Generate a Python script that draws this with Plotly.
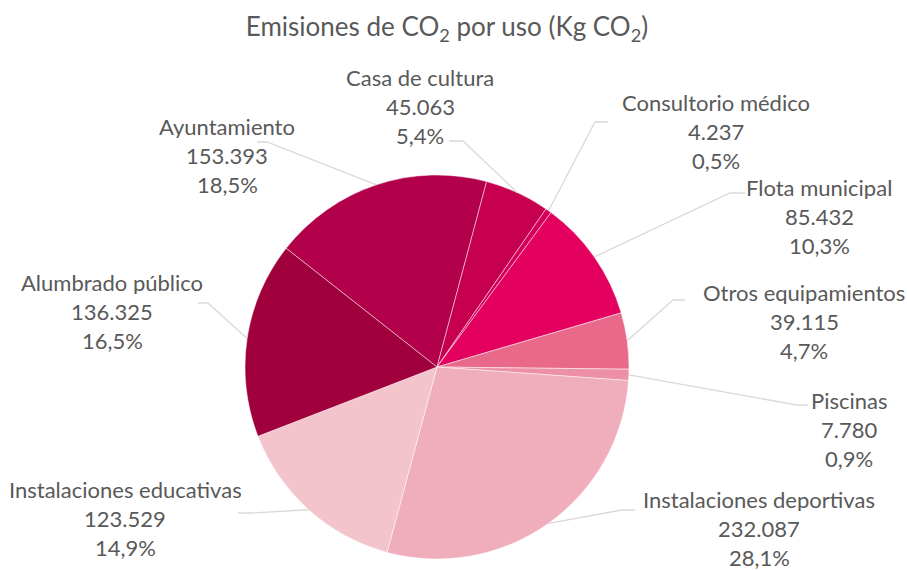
import math
import plotly.graph_objects as go

# ---- data ----
categories = ["Ayuntamiento", "Casa de cultura", "Consultorio médico", "Flota municipal",
              "Otros equipamientos", "Piscinas", "Instalaciones deportivas",
              "Instalaciones educativas", "Alumbrado público"]
emissions = [153393, 45063, 4237, 85432, 39115, 7780, 232087, 123529, 136325]
colors = ["#B2004A", "#C6004F", "#D4005A", "#E3005E", "#E9698A", "#EE90A5",
          "#F0ADBB", "#F3C4CC", "#A0003C"]

# ---- layout constants (pixels) ----
W, H = 907, 570
PCX, PCY, PR = 437, 367, 192
ROT = -51.8
TEXT_COLOR = "#595959"
FONT = "Lato"
LABEL_SIZE = 22
LINE_GAP = 29

# label center x, first-line y ; leader end point ; elbow dx
label_pos = [(227, 126), (420, 77), (716, 102), (819, 187), (804, 292),
             (849, 400), (759, 499), (125, 489), (112, 282)]
leader_end = [(257, 142), (449, 141), (608, 122), (745, 193), (685, 300),
              (808, 405), (635, 510), (238, 513), (198, 303)]
elbow_dx = [10, 14, -13, -15, -12, -11, -13, 12, 10]


def px(x):
    return x / W


def py(y):
    return 1 - y / H


total = sum(emissions)

fig = go.Figure(go.Pie(
    labels=categories, values=emissions, sort=False, direction="clockwise",
    rotation=ROT, textinfo="none", hoverinfo="label+value+percent",
    marker=dict(colors=colors, line=dict(color="rgba(255,255,255,0.6)", width=0.8)),
    domain=dict(x=[px(PCX - PR), px(PCX + PR)], y=[py(PCY + PR), py(PCY - PR)]),
    showlegend=False,
))

annotations = []
shapes = []
cum = 0
for i, (name, v) in enumerate(zip(categories, emissions)):
    mid = math.radians(ROT + (cum + v / 2) / total * 360)
    cum += v
    sx = PCX + PR * math.sin(mid)
    sy = PCY - PR * math.cos(mid)
    ex, ey = leader_end[i]
    bx = ex + elbow_dx[i]
    shapes.append(dict(
        type="path", xref="paper", yref="paper",
        path=f"M {px(sx)} {py(sy)} L {px(bx)} {py(ey)} L {px(ex)} {py(ey)}",
        line=dict(color="#D9D9D9", width=1.3)))
    pct = f"{v / total * 100:.1f}".replace(".", ",") + "%"
    val = f"{v:,}".replace(",", ".")
    cx, y1 = label_pos[i]
    for k, t in enumerate([name, val, pct]):
        annotations.append(dict(
            x=px(cx), y=py(y1 + k * LINE_GAP), xref="paper", yref="paper",
            text=t, showarrow=False, xanchor="center", yanchor="middle",
            height=24,
            font=dict(family=FONT, size=LABEL_SIZE, color=TEXT_COLOR)))

fig.update_layout(
    width=W, height=H, autosize=False,
    margin=dict(l=0, r=0, t=0, b=0),
    paper_bgcolor="white", plot_bgcolor="white",
    title=dict(text="Emisiones de CO<sub>2</sub> por uso (Kg CO<sub>2</sub>)",
               x=447 / W, xanchor="center", y=py(27), yanchor="middle",
               font=dict(family=FONT, size=26, color=TEXT_COLOR)),
    annotations=annotations, shapes=shapes,
)

fig.write_html("out.html",
               config={"displayModeBar": False},
               post_script="document.body.style.margin='0';document.body.style.padding='0';"
                           "document.body.style.overflow='hidden';")
